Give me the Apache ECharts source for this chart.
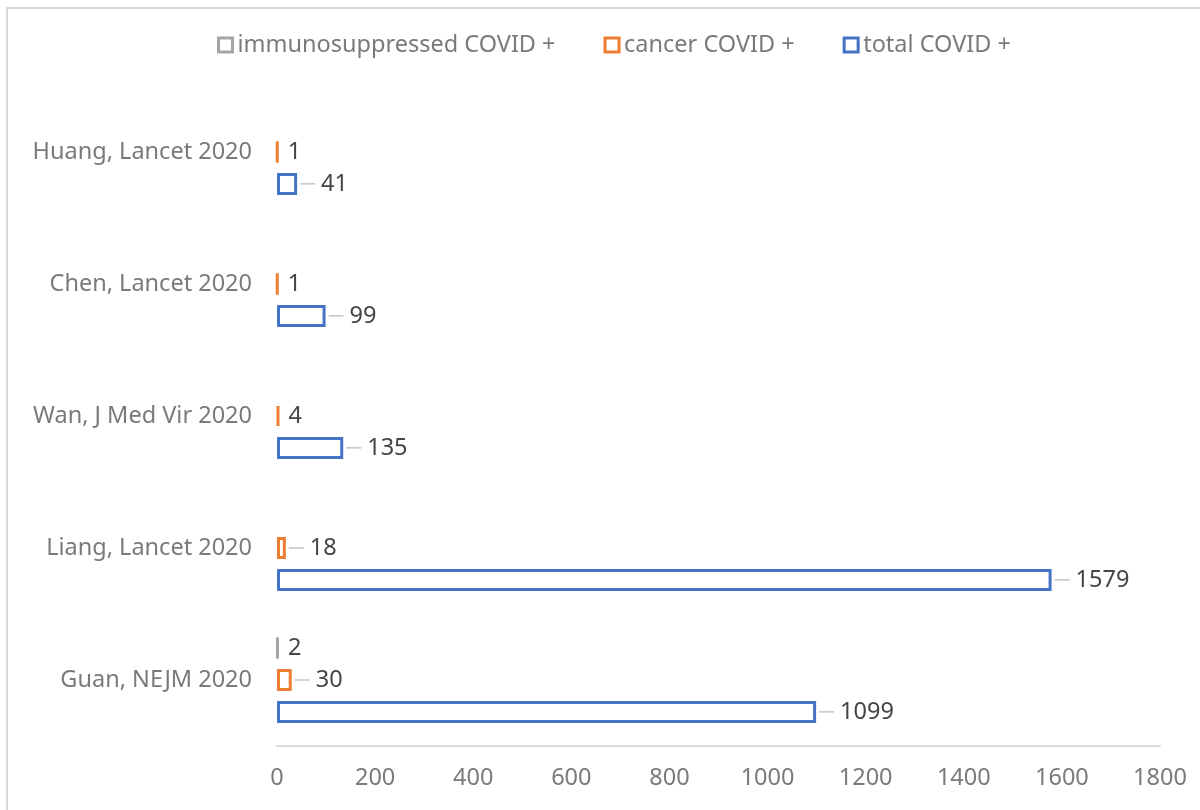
<!DOCTYPE html>
<html>
<head>
<meta charset="utf-8">
<script src="https://cdn.jsdelivr.net/npm/echarts@6/dist/echarts.min.js"></script>
<style>
  html, body { margin: 0; padding: 0; background: #fff; }
  #chart { width: 1200px; height: 810px; }
</style>
</head>
<body>
<div id="chart"></div>
<script>
// données
const studies = ["Guan, NEJM 2020", "Liang, Lancet 2020", "Wan, J Med Vir 2020", "Chen, Lancet 2020", "Huang, Lancet 2020"];
const totalCovid = [1099, 1579, 135, 99, 41];
const cancerCovid = [30, 18, 4, 1, 1];
const immunoCovid = [2, null, null, null, null];
const xTicks = { min: 0, max: 1800, interval: 200 };

const FONT = "Noto Sans";
const FS = 23.5;
const TXT = "#7a7a7a";
const VAL = "#454545";

// étiquette avec petit trait de rappel quand la valeur est assez grande
const makeLabel = () => ({
  show: true,
  position: "right",
  distance: 3,
  formatter: (p) => (p.value >= 10 ? "{l| }{g| }{v|" + p.value + "}" : "{s| }{v|" + p.value + "}"),
  rich: {
    l: { width: 15, height: 1, backgroundColor: "#a6a6a6", fontSize: 1 },
    g: { width: 6 },
    s: { width: 6 },
    v: { fontFamily: FONT, fontSize: FS, color: VAL },
  },
});

const mkSeries = (name, color, values) => ({
  name: name,
  type: "bar",
  data: values,
  barWidth: 22,
  barGap: "45%",
  itemStyle: { color: "#fff", borderColor: color, borderWidth: 3 },
  label: makeLabel(),
});

const chart = echarts.init(document.getElementById("chart"));
chart.setOption({
  animation: false,
  backgroundColor: "#fff",
  graphic: [
    {
      type: "rect",
      shape: { x: 7, y: 8, width: 1400, height: 1000 },
      style: { fill: "none", stroke: "#d9d9d9", lineWidth: 2 },
      silent: true,
    },
  ],
  legend: {
    top: 28,
    left: 212,
    itemGap: 48,
    itemWidth: 14,
    itemHeight: 14,
    icon: "rect",
    itemStyle: { borderWidth: 3 },
    data: ["immunosuppressed COVID +", "cancer COVID +", "total COVID +"],
    textStyle: { fontFamily: FONT, fontSize: FS, color: TXT, padding: [0, 0, 0, 0] },
  },
  grid: { left: 277, right: 40, top: 86, bottom: 64, containLabel: false },
  xAxis: {
    type: "value",
    min: xTicks.min,
    max: xTicks.max,
    interval: xTicks.interval,
    axisLine: { show: true, onZero: false, lineStyle: { color: "#d9d9d9", width: 2 } },
    axisTick: { show: false },
    splitLine: { show: false },
    axisLabel: { fontFamily: FONT, fontSize: FS, color: TXT, margin: 20, formatter: (v) => String(v) },
  },
  yAxis: {
    type: "category",
    data: studies,
    axisLine: { show: false },
    axisTick: { show: false },
    axisLabel: { fontFamily: FONT, fontSize: FS, color: TXT, margin: 25 },
  },
  series: [
    mkSeries("immunosuppressed COVID +", "#A5A5A5", immunoCovid),
    mkSeries("cancer COVID +", "#ED7D31", cancerCovid),
    mkSeries("total COVID +", "#4472C4", totalCovid),
  ],
});
</script>
</body>
</html>
